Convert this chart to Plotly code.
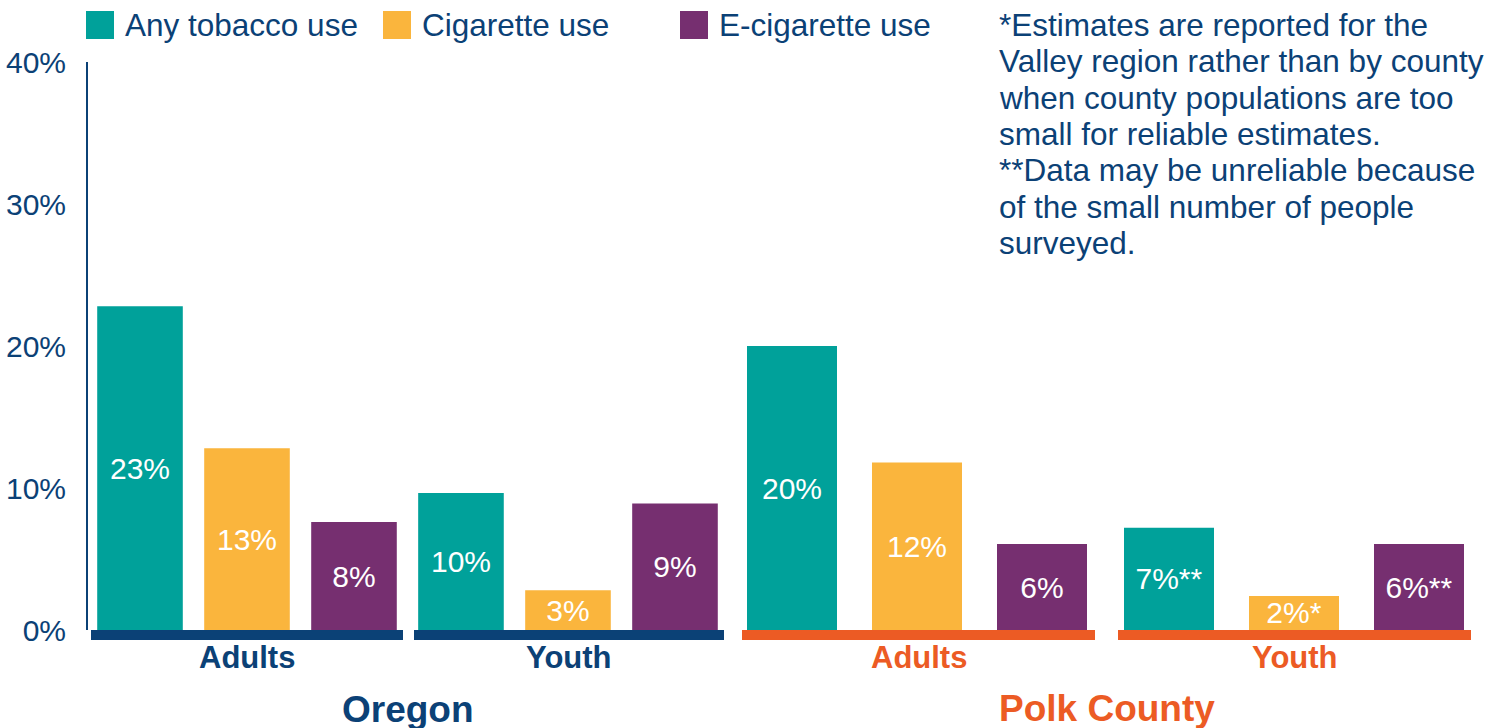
import plotly.graph_objects as go

# ---------------- data ----------------
series = ["Any tobacco use", "Cigarette use", "E-cigarette use"]
groups = ["Adults", "Youth", "Adults", "Youth"]
regions = ["Oregon", "Polk County"]

any_tobacco = [22.8, 9.65, 20.0, 7.2]
cigarette = [12.8, 2.8, 11.8, 2.4]
e_cigarette = [7.6, 8.9, 6.05, 6.05]

any_labels = ["23%", "10%", "20%", "7%**"]
cig_labels = ["13%", "3%", "12%", "2%*"]
ecig_labels = ["8%", "9%", "6%", "6%**"]

y_ticks = [0, 10, 20, 30, 40]
y_tick_text = ["0%", "10%", "20%", "30%", "40%"]

note_lines = [
    "*Estimates are reported for the",
    "Valley region rather than by county",
    "when county populations are too",
    "small for reliable estimates.",
    "**Data may be unreliable because",
    "of the small number of people",
    "surveyed.",
]

# ---------------- style ----------------
FONT = "Liberation Sans, Arial, sans-serif"
NAVY = "#0B4176"
ORANGE = "#EC5B24"
colors = ["#00A19A", "#FAB53D", "#762F70"]
group_colors = [NAVY, NAVY, ORANGE, ORANGE]
region_colors = [NAVY, ORANGE]

W, H = 1507, 728
ML, MR, MT, MB = 87, 17, 62, 98
PW = W - ML - MR
PH = H - MT - MB


def fx(p):
    return (p - ML) / PW


def fy(p):
    return (H - MB - p) / PH


# subplot layout (pixel extents of each group's baseline)
domains_px = [(91, 403), (414, 724), (742, 1095), (1118, 1471)]
ranges = [(-0.458, 2.458), (-0.439, 2.458), (-0.40, 2.424), (-0.408, 2.416)]
bar_widths = [0.80, 0.80, 0.72, 0.72]

values = [any_tobacco, cigarette, e_cigarette]
labels = [any_labels, cig_labels, ecig_labels]

fig = go.Figure()
for g in range(len(groups)):
    xa = "x" if g == 0 else f"x{g + 1}"
    for s, name in enumerate(series):
        fig.add_trace(go.Bar(
            x=[name], y=[values[s][g]],
            text=[labels[s][g]],
            textposition="inside", insidetextanchor="middle", textangle=0,
            textfont=dict(family=FONT, size=30, color="white"),
            marker=dict(color=colors[s], line=dict(width=0)),
            width=bar_widths[g],
            xaxis=xa, yaxis="y", showlegend=False, hoverinfo="skip",
        ))

layout = dict(
    width=W, height=H,
    margin=dict(l=ML, r=MR, t=MT, b=MB, autoexpand=False),
    paper_bgcolor="white", plot_bgcolor="white",
    barmode="overlay",
    showlegend=False,
    hovermode=False,
    uniformtext=dict(minsize=30, mode="show"),
    font=dict(family=FONT, color=NAVY),
    yaxis=dict(
        range=[0, 40], tickmode="array", tickvals=y_ticks, ticktext=y_tick_text,
        anchor="free", position=0, automargin=False,
        showline=True, linewidth=2, linecolor=NAVY,
        showgrid=False, zeroline=False, ticks="",
        ticklabelstandoff=14,
        tickfont=dict(family=FONT, size=30, color=NAVY),
    ),
)
for g in range(len(groups)):
    key = "xaxis" if g == 0 else f"xaxis{g + 1}"
    d0, d1 = domains_px[g]
    layout[key] = dict(
        domain=[fx(d0), fx(d1)], anchor="y", automargin=False,
        type="category", categoryorder="array", categoryarray=series,
        range=list(ranges[g]),
        showticklabels=False, ticks="",
        showline=True, linewidth=10, linecolor=group_colors[g],
        showgrid=False, zeroline=False,
    )
fig.update_layout(**layout)

annotations = []
shapes = []

# group labels
for g, name in enumerate(groups):
    xref = "x domain" if g == 0 else f"x{g + 1} domain"
    annotations.append(dict(
        text=f"<b>{name}</b>", xref=xref, yref="paper", x=0.5, y=fy(657),
        xanchor="center", yanchor="middle", showarrow=False,
        font=dict(family=FONT, size=31, color=group_colors[g]),
    ))

# region labels
region_px = [((91 + 724) / 2, 709), ((742 + 1471) / 2, 708)]
for r, name in enumerate(regions):
    cx, cy = region_px[r]
    annotations.append(dict(
        text=f"<b>{name}</b>", xref="paper", yref="paper", x=fx(cx), y=fy(cy),
        xanchor="center", yanchor="middle", showarrow=False,
        font=dict(family=FONT, size=37, color=region_colors[r]),
    ))

# manual legend
legend_x = [86, 383, 680]
for s, name in enumerate(series):
    x0 = legend_x[s]
    shapes.append(dict(
        type="rect", xref="paper", yref="paper",
        x0=fx(x0), x1=fx(x0 + 28), y0=fy(39), y1=fy(11),
        fillcolor=colors[s], line=dict(width=0),
    ))
    annotations.append(dict(
        text=name, xref="paper", yref="paper", x=fx(x0 + 37), y=fy(25),
        xanchor="left", yanchor="middle", showarrow=False,
        font=dict(family=FONT, size=31.5, color=NAVY),
    ))

# footnote
for i, line in enumerate(note_lines):
    annotations.append(dict(
        text=line, xref="paper", yref="paper", x=fx(997), y=fy(25 + i * 36.3),
        xanchor="left", yanchor="middle", showarrow=False,
        font=dict(family=FONT, size=31.5, color=NAVY),
    ))

fig.update_layout(annotations=annotations, shapes=shapes)
fig.write_html(
    "out.html",
    config={"displayModeBar": False, "staticPlot": True},
    post_script="document.body.style.margin='0';document.body.style.overflow='hidden';",
)
